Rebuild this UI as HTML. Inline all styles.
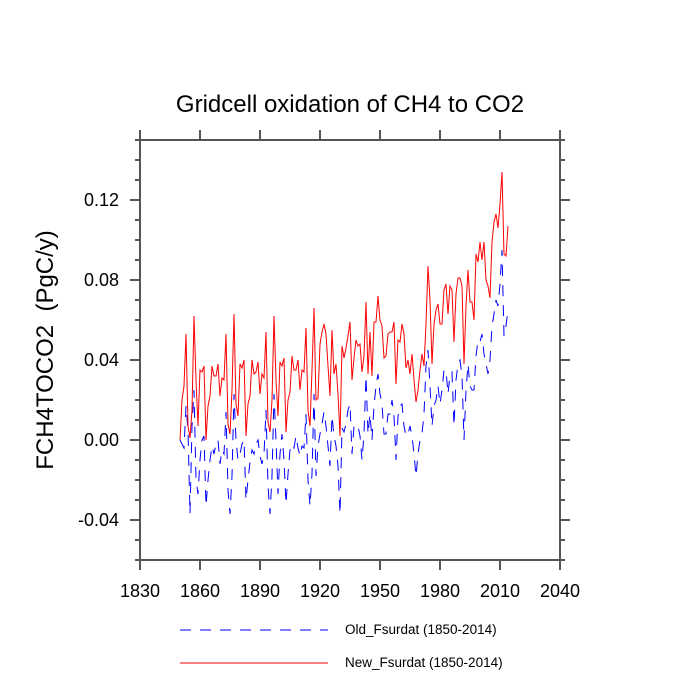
<!DOCTYPE html>
<html><head><meta charset="utf-8"><style>
html,body{margin:0;padding:0;background:#fff;}
svg{display:block;font-family:"Liberation Sans",sans-serif;}
</style></head><body>
<svg id="chart" width="700" height="700" viewBox="0 0 700 700" xmlns="http://www.w3.org/2000/svg">
<text x="350" y="112" text-anchor="middle" font-size="24" fill="#000">Gridcell oxidation of CH4 to CO2</text>
<text transform="translate(53,350) rotate(-90)" text-anchor="middle" font-size="24" fill="#000">FCH4TOCO2&#160;&#160;(PgC/y)</text>
<g id="axes"></g>
<g id="series"></g>
<g>
<line x1="180" y1="630" x2="328" y2="630" stroke="#0000ff" stroke-width="1" stroke-dasharray="11,9"/>
<text x="345" y="634" font-size="13.5">Old_Fsurdat (1850-2014)</text>
<line x1="180" y1="663" x2="328" y2="663" stroke="#ff0000" stroke-width="1"/>
<text x="345" y="667" font-size="13.5">New_Fsurdat (1850-2014)</text>
</g>
</svg>
<script>
const startYear = 1850;
const newVals = [0.0,0.02,0.027,0.053,0.007,0.001,0.015,0.062,0.03,0.007,0.035,0.034,0.037,0.0,0.017,0.022,0.037,0.032,0.032,0.038,0.022,0.031,0.03,0.053,0.008,0.003,0.025,0.063,0.018,0.012,0.038,0.036,0.04,0.002,0.018,0.022,0.04,0.033,0.034,0.039,0.023,0.033,0.031,0.054,0.009,0.004,0.02,0.062,0.03,0.012,0.039,0.037,0.041,0.004,0.02,0.024,0.042,0.035,0.035,0.04,0.025,0.035,0.034,0.056,0.015,0.007,0.035,0.066,0.02,0.021,0.048,0.054,0.058,0.053,0.037,0.022,0.055,0.033,0.038,0.023,0.002,0.047,0.041,0.046,0.052,0.059,0.03,0.041,0.05,0.047,0.048,0.034,0.042,0.069,0.033,0.054,0.032,0.059,0.059,0.072,0.06,0.057,0.041,0.042,0.053,0.054,0.054,0.059,0.028,0.05,0.049,0.058,0.053,0.036,0.04,0.033,0.043,0.03,0.019,0.025,0.035,0.043,0.037,0.058,0.087,0.07,0.038,0.058,0.065,0.068,0.058,0.058,0.075,0.078,0.063,0.077,0.075,0.049,0.073,0.081,0.081,0.077,0.038,0.067,0.085,0.069,0.069,0.06,0.093,0.089,0.099,0.09,0.099,0.08,0.077,0.071,0.099,0.109,0.113,0.106,0.118,0.134,0.093,0.092,0.107];
const oldVals = [0.0,-0.002,-0.004,0.017,0.005,-0.037,0.007,0.025,-0.02,-0.027,-0.01,0.0,0.002,-0.033,-0.02,-0.01,-0.003,-0.007,-0.002,0.0,-0.012,-0.005,-0.007,0.014,-0.025,-0.037,-0.018,0.023,0.0,-0.01,-0.007,-0.002,0.0,-0.03,-0.02,-0.011,-0.005,-0.007,-0.002,0.0,-0.008,-0.012,-0.007,0.015,-0.023,-0.037,-0.018,0.023,0.0,-0.027,-0.007,0.003,-0.01,-0.032,-0.017,-0.005,-0.002,-0.004,0.002,-0.004,-0.008,-0.003,-0.004,0.013,-0.02,-0.033,-0.017,0.023,-0.018,-0.003,0.003,0.008,0.014,0.007,-0.003,-0.013,0.012,0.002,-0.003,-0.013,-0.037,0.006,0.004,0.008,0.015,0.018,-0.007,0.007,0.008,0.007,0.002,-0.01,0.003,0.032,0.003,0.013,0.0,0.017,0.027,0.033,0.023,0.018,0.003,0.003,0.013,0.013,0.02,0.012,-0.01,0.012,0.017,0.018,0.007,0.002,0.003,0.007,0.002,-0.007,-0.018,-0.007,0.0,0.003,0.013,0.037,0.045,0.027,0.007,0.017,0.02,0.027,0.018,0.025,0.035,0.035,0.023,0.033,0.034,0.007,0.03,0.038,0.04,0.032,0.0,0.025,0.038,0.027,0.025,0.025,0.042,0.05,0.049,0.053,0.043,0.038,0.033,0.04,0.057,0.063,0.07,0.067,0.078,0.095,0.052,0.057,0.065];
const xTicks = [1830,1860,1890,1920,1950,1980,2010,2040];
const yTicks = [-0.04,0.0,0.04,0.08,0.12];
const yTickLabels = ["-0.04","0.00","0.04","0.08","0.12"];

const X0=140,X1=560,Y0=140,Y1=560, XMIN=1830,XMAX=2040,YMIN=-0.06,YMAX=0.15;
const xs = v => X0 + (v-XMIN)/(XMAX-XMIN)*(X1-X0);
const ys = v => Y1 - (v-YMIN)/(YMAX-YMIN)*(Y1-Y0);
const NS="http://www.w3.org/2000/svg";
function mk(tag, attrs, parent){const e=document.createElementNS(NS,tag);for(const k in attrs)e.setAttribute(k,attrs[k]);parent.appendChild(e);return e;}
const axes=document.getElementById('axes');
const ac="#555";
const frame=mk('rect',{x:X0,y:Y0,width:X1-X0,height:Y1-Y0,fill:"none",stroke:ac,"stroke-width":2},axes);


xTicks.forEach(t=>{
  const x=xs(t);
  const b=mk('line',{x1:x,y1:Y1,x2:x,y2:Y1+10,stroke:ac,"stroke-width":2},axes);
  
  
  const tp=mk('line',{x1:x,y1:Y0,x2:x,y2:Y0-10,stroke:ac,"stroke-width":2},axes);
  
  
  const l=mk('text',{x:x,y:Y1+37,"text-anchor":"middle","font-size":18},axes);
  l.textContent=t;
  
  
});
for(let v=-0.06; v<=0.1501; v+=0.01){
  const y=ys(v);
  const major = yTicks.some(t=>Math.abs(t-v)<1e-6);
  const len = major?10:5;
  const a=mk('line',{x1:X0,y1:y,x2:X0-len,y2:y,stroke:ac,"stroke-width":2},axes);
  
  
  const r=mk('line',{x1:X1,y1:y,x2:X1+len,y2:y,stroke:ac,"stroke-width":2},axes);
  
  
}
yTicks.forEach((t,i)=>{
  const l=mk('text',{x:X0-21,y:ys(t)+6,"text-anchor":"end","font-size":18},axes);
  l.textContent=yTickLabels[i];
  
  
});
const series=document.getElementById('series');
function pts(arr){return arr.map((v,i)=>xs(startYear+i).toFixed(1)+","+ys(v).toFixed(1)).join(" ");}
const oldLine=mk('polyline',{points:pts(oldVals),fill:"none",stroke:"#0000ff","stroke-width":1,"stroke-dasharray":"11,9"},series);


const newLine=mk('polyline',{points:pts(newVals),fill:"none",stroke:"#ff0000","stroke-width":1},series);


</script>
</body></html>
